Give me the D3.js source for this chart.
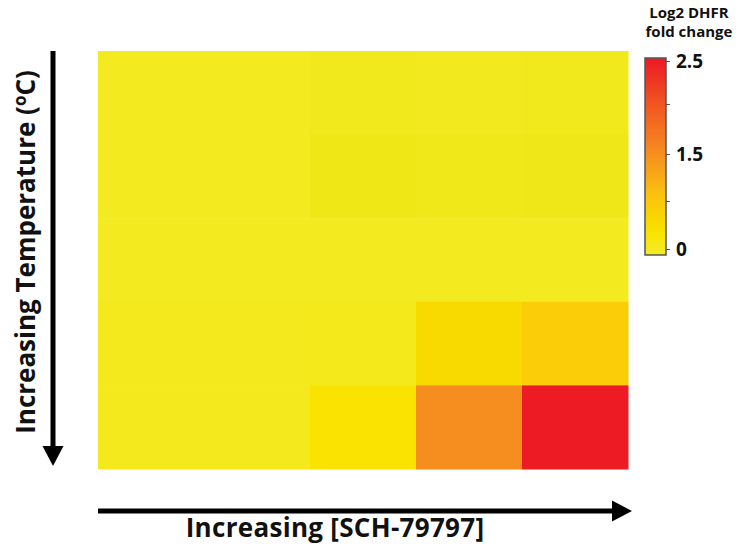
<!DOCTYPE html>
<html>
<head>
<meta charset="utf-8">
<script src="https://cdn.jsdelivr.net/npm/d3@7"></script>
<style>
  html, body { margin: 0; padding: 0; background: #fff; }
  svg { display: block; }
  text { font-family: "Open Sans", Lato, sans-serif; font-weight: 700; fill: #111; }
</style>
</head>
<body>
<svg id="chart" width="745" height="553"></svg>
<script>
// Temperature levels (top = lowest) and SCH-79797 concentration levels (left = lowest)
const temperatureLevels = ["T1", "T2", "T3", "T4", "T5"];
const drugLevels = ["D1", "D2", "D3", "D4", "D5"];

// Log2 DHFR fold change, one row per temperature level
const row1 = [0.00, 0.00, -0.03, -0.02, -0.03];
const row2 = [0.00, 0.00, -0.08, -0.06, -0.07];
const row3 = [0.01, 0.01, -0.01, 0.00, -0.01];
const row4 = [0.02, 0.02, 0.05, 0.42, 0.66];
const row5 = [0.02, 0.02, 0.25, 1.50, 2.50];
const foldChange = [row1, row2, row3, row4, row5];

// Colour bar ticks
const legendTicks = [0, 0.75, 1.5, 2, 2.5];
const legendTickLabels = ["0", "", "1.5", "", "2.5"];

const svg = d3.select("#chart");

const x = d3.scaleBand().domain(drugLevels).range([98, 628]);
const y = d3.scaleBand().domain(temperatureLevels).range([51, 469]);

const color = d3.scaleLinear()
  .domain([-0.1, 0, 0.25, 0.5, 0.8, 1.5, 2.5])
  .range(["#efe614", "#f3ea20", "#fae300", "#f9d600", "#fbc50f", "#f68e1f", "#ed1c24"])
  .clamp(true);

// Heatmap cells
const cells = [];
temperatureLevels.forEach((t, i) => drugLevels.forEach((d, j) => cells.push({ t, d, v: foldChange[i][j] })));
svg.append("g").selectAll("rect").data(cells).join("rect")
  .attr("x", c => x(c.d))
  .attr("y", c => y(c.t))
  .attr("width", x.bandwidth() + 0.5)
  .attr("height", y.bandwidth() + 0.5)
  .attr("fill", c => color(c.v));

// Arrows along the axes
const defs = svg.append("defs");
function arrow(x1, y1, x2, y2) {
  const ang = Math.atan2(y2 - y1, x2 - x1);
  const headLen = 20, headHalf = 10.5;
  const bx = x2 - headLen * Math.cos(ang), by = y2 - headLen * Math.sin(ang);
  svg.append("line")
    .attr("x1", x1).attr("y1", y1).attr("x2", bx).attr("y2", by)
    .attr("stroke", "#000").attr("stroke-width", 5);
  const px = -Math.sin(ang) * headHalf, py = Math.cos(ang) * headHalf;
  svg.append("path")
    .attr("d", `M${x2},${y2}L${bx + px},${by + py}L${bx - px},${by - py}Z`)
    .attr("fill", "#000");
}
arrow(53, 51, 53, 466);
arrow(98, 511, 632, 511);

// Axis titles
svg.append("text")
  .attr("x", 335).attr("y", 537)
  .attr("text-anchor", "middle")
  .style("font-size", "26px")
  .style("letter-spacing", "0.3px")
  .text("Increasing [SCH-79797]");

const yTitle = svg.append("text")
  .attr("transform", "translate(35,252) rotate(-90)")
  .attr("text-anchor", "middle")
  .style("font-size", "26px");
yTitle.append("tspan").text("Increasing Temperature (");
yTitle.append("tspan").attr("dy", -9).style("font-size", "17px").text("o");
yTitle.append("tspan").attr("dy", 9).text("C)");

// Colour bar
const barX = 645, barW = 21, barTop = 58, barBottom = 255;
const pos = d3.scaleLinear().domain(legendTicks).range([249, 201, 154, 104, 61]);
const grad = defs.append("linearGradient")
  .attr("id", "cbar").attr("x1", 0).attr("y1", 1).attr("x2", 0).attr("y2", 0);
d3.range(0, 1.0001, 0.02).forEach(f => {
  const py = barBottom - f * (barBottom - barTop);
  const v = Math.max(0, Math.min(2.5, pos.invert(py)));
  grad.append("stop").attr("offset", f).attr("stop-color", color(v));
});
svg.append("rect")
  .attr("x", barX).attr("y", barTop).attr("width", barW).attr("height", barBottom - barTop)
  .attr("fill", "url(#cbar)")
  .attr("stroke", "#555").attr("stroke-width", 1.5);

const legendAxis = d3.axisRight(pos)
  .tickValues(legendTicks)
  .tickFormat((d, i) => legendTickLabels[i])
  .tickSize(4)
  .tickPadding(6);
const la = svg.append("g").attr("transform", `translate(${barX + barW},0)`).call(legendAxis);
la.select(".domain").remove();
la.selectAll(".tick line").attr("stroke", "#555").attr("stroke-width", 1);
la.selectAll(".tick text")
  .style("font-family", "'Open Sans', Lato, sans-serif")
  .style("font-weight", 700)
  .style("font-size", "19px")
  .attr("fill", "#111");

const lt = svg.append("text")
  .attr("text-anchor", "middle")
  .style("font-size", "15px");
lt.append("tspan").attr("x", 689).attr("y", 18).text("Log2 DHFR");
lt.append("tspan").attr("x", 689).attr("y", 37).text("fold change");
</script>
</body>
</html>
